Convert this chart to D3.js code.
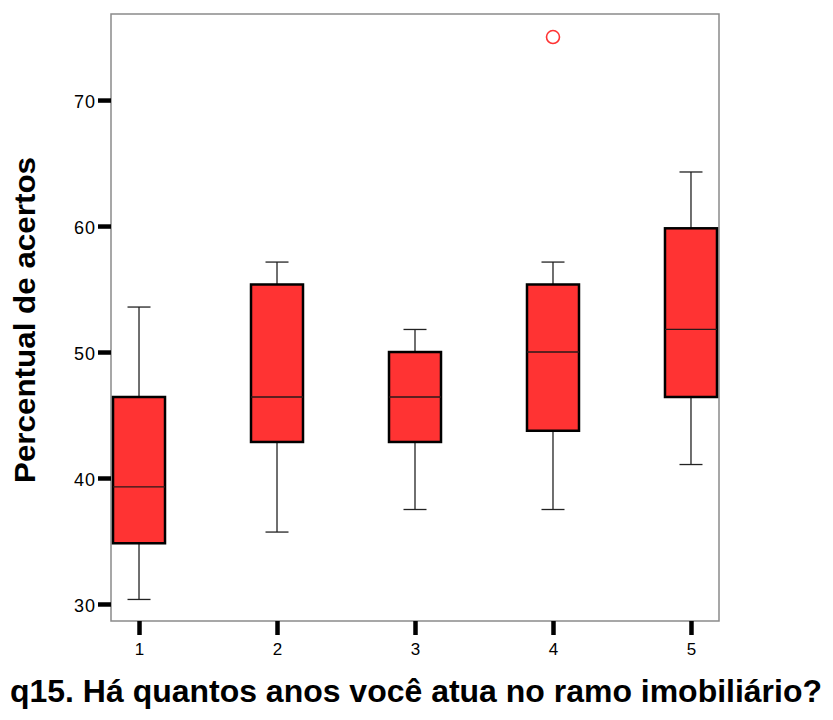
<!DOCTYPE html>
<html>
<head>
<meta charset="utf-8">
<script src="https://cdn.jsdelivr.net/npm/d3@7"></script>
<style>
  html, body { margin: 0; padding: 0; background: #fff; }
  svg { display: block; }
</style>
</head>
<body>
<svg id="chart" width="833" height="720"></svg>
<script>
// Groups: years working in real estate (q15)
const categories = ["1", "2", "3", "4", "5"];
// Box-plot summaries of "Percentual de acertos" per group
const whiskerLow  = [30.36, 35.71, 37.50, 37.50, 41.07];
const q1          = [34.82, 42.86, 42.86, 43.75, 46.43];
const median      = [39.29, 46.43, 46.43, 50.00, 51.79];
const q3          = [46.43, 55.36, 50.00, 55.36, 59.82];
const whiskerHigh = [53.57, 57.14, 51.79, 57.14, 64.29];
// Outliers: [category, value]
const outliers = [["4", 75.0]];
const yTicks = [30, 40, 50, 60, 70];

const svg = d3.select("#chart");
const plot = { left: 111, right: 719, top: 14, bottom: 621 };

const x = d3.scalePoint().domain(categories)
  .range([plot.left, plot.right]).padding(0.203);
const y = d3.scaleLinear().domain([28.65, 76.83])
  .range([plot.bottom, plot.top]);

const boxW = 52, capW = 23;
const red = "#ff3333";

// Plot frame
svg.append("rect")
  .attr("x", plot.left).attr("y", plot.top)
  .attr("width", plot.right - plot.left).attr("height", plot.bottom - plot.top)
  .attr("fill", "none").attr("stroke", "#8a8a8a").attr("stroke-width", 1.5);

// Y axis
const yAxis = svg.append("g")
  .attr("transform", `translate(${plot.left},0)`)
  .call(d3.axisLeft(y).tickValues(yTicks).tickSize(13).tickPadding(2).tickFormat(d3.format("d")));
yAxis.select(".domain").remove();
yAxis.selectAll(".tick line").attr("stroke", "#000").attr("stroke-width", 4.5);
yAxis.selectAll(".tick text")
  .attr("fill", "#000").attr("font-family", "Arial, 'Liberation Sans', sans-serif")
  .attr("font-size", 18).attr("letter-spacing", 1).attr("dy", "0.4em");

// X axis
const xAxis = svg.append("g")
  .attr("transform", `translate(0,${plot.bottom})`)
  .call(d3.axisBottom(x).tickSize(14).tickPadding(8));
xAxis.select(".domain").remove();
xAxis.selectAll(".tick line").attr("stroke", "#000").attr("stroke-width", 4.5);
xAxis.selectAll(".tick text")
  .attr("fill", "#000").attr("font-family", "Arial, 'Liberation Sans', sans-serif")
  .attr("font-size", 17);

// Boxes
const rows = categories.map((c, i) => ({
  c, lo: whiskerLow[i], q1: q1[i], med: median[i], q3: q3[i], hi: whiskerHigh[i]
}));
const g = svg.append("g").selectAll("g").data(rows).join("g")
  .attr("transform", d => `translate(${x(d.c)},0)`);

// Whisker stems
g.append("line").attr("x1", 0).attr("x2", 0)
  .attr("y1", d => y(d.hi)).attr("y2", d => y(d.q3))
  .attr("stroke", "#222").attr("stroke-width", 1.3);
g.append("line").attr("x1", 0).attr("x2", 0)
  .attr("y1", d => y(d.q1)).attr("y2", d => y(d.lo))
  .attr("stroke", "#222").attr("stroke-width", 1.3);
// Whisker caps
g.append("line").attr("x1", -capW / 2).attr("x2", capW / 2)
  .attr("y1", d => y(d.hi)).attr("y2", d => y(d.hi))
  .attr("stroke", "#222").attr("stroke-width", 1.3);
g.append("line").attr("x1", -capW / 2).attr("x2", capW / 2)
  .attr("y1", d => y(d.lo)).attr("y2", d => y(d.lo))
  .attr("stroke", "#222").attr("stroke-width", 1.3);
// Box
g.append("rect")
  .attr("x", -boxW / 2).attr("width", boxW)
  .attr("y", d => y(d.q3)).attr("height", d => y(d.q1) - y(d.q3))
  .attr("fill", red).attr("stroke", "#000").attr("stroke-width", 2.5);
// Median
g.append("line").attr("x1", -boxW / 2).attr("x2", boxW / 2)
  .attr("y1", d => y(d.med)).attr("y2", d => y(d.med))
  .attr("stroke", "#2a1a1a").attr("stroke-width", 1.3);

// Outliers
svg.append("g").selectAll("circle").data(outliers).join("circle")
  .attr("cx", d => x(d[0])).attr("cy", d => y(d[1])).attr("r", 6.5)
  .attr("fill", "none").attr("stroke", red).attr("stroke-width", 1.6);

// Axis titles
svg.append("text")
  .attr("transform", `translate(35,320) rotate(-90)`)
  .attr("text-anchor", "middle")
  .attr("font-family", "Arial, 'Liberation Sans', sans-serif")
  .attr("font-weight", "bold").attr("font-size", 29)
  .attr("textLength", 326).attr("lengthAdjust", "spacingAndGlyphs")
  .text("Percentual de acertos");

svg.append("text")
  .attr("x", 416).attr("y", 702)
  .attr("text-anchor", "middle")
  .attr("font-family", "'Liberation Sans Narrow', 'Arial Narrow', Arial, sans-serif")
  .attr("font-weight", "bold").attr("font-size", 32)
  .attr("textLength", 812).attr("lengthAdjust", "spacingAndGlyphs")
  .text("q15. Há quantos anos você atua no ramo imobiliário?");
</script>
</body>
</html>
